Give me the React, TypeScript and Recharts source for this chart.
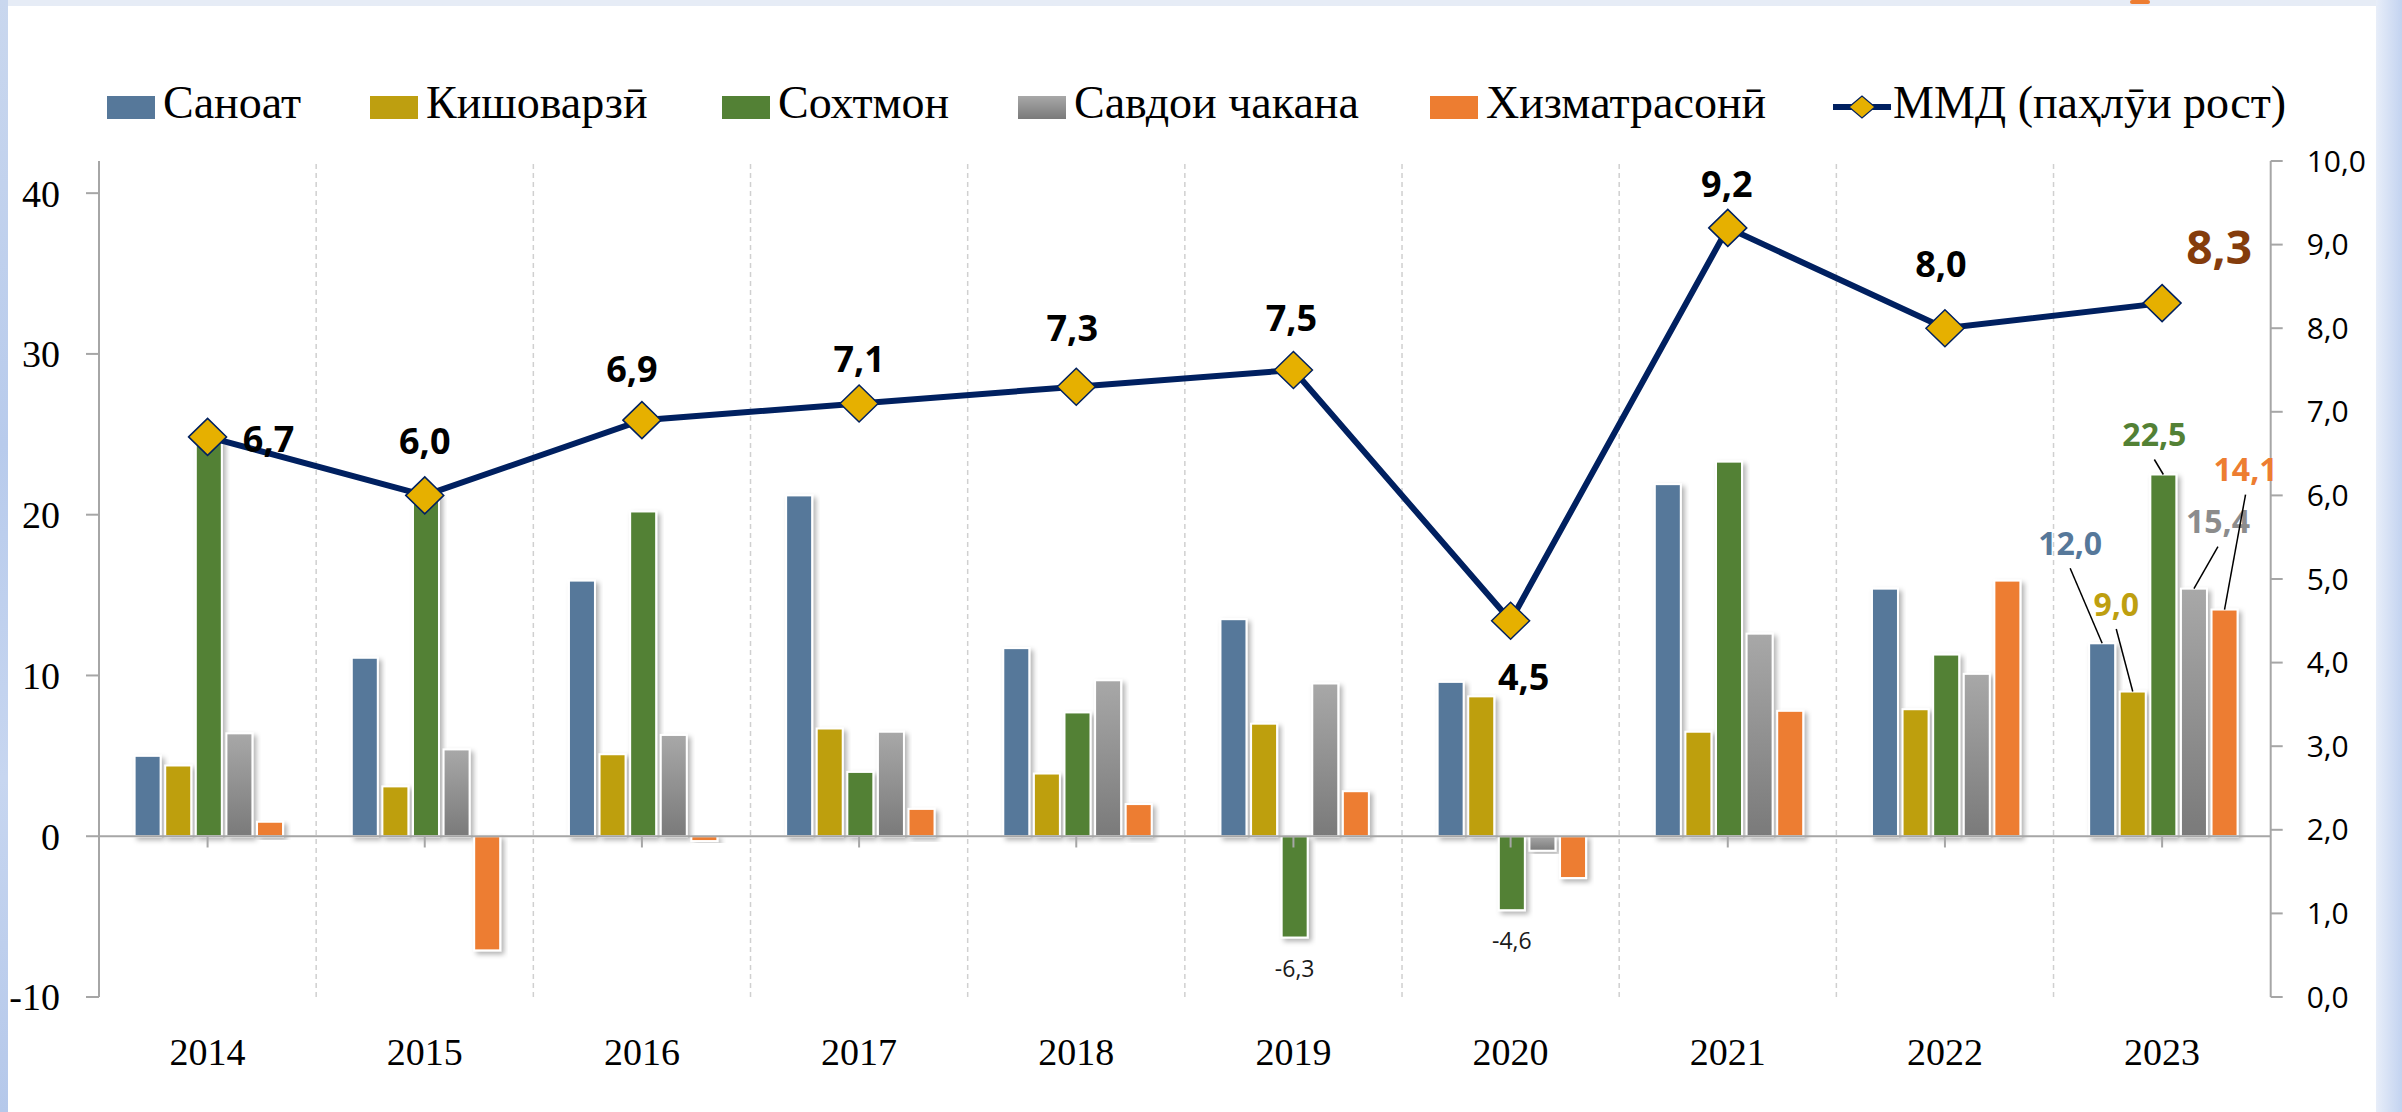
import React from 'react';
import {
  ComposedChart,
  Bar,
  Line,
  XAxis,
  YAxis,
  ReferenceLine,
  LabelList,
  Legend,
} from 'recharts';

// ---------- data ----------
const years = ['2014', '2015', '2016', '2017', '2018', '2019', '2020', '2021', '2022', '2023'];
const sanoat = [5.0, 11.1, 15.9, 21.2, 11.7, 13.5, 9.6, 21.9, 15.4, 12.0];
const kishovarzi = [4.4, 3.1, 5.1, 6.7, 3.9, 7.0, 8.7, 6.5, 7.9, 9.0];
const sokhtmon = [24.6, 21.3, 20.2, 4.0, 7.7, -6.3, -4.6, 23.3, 11.3, 22.5];
const savdo = [6.4, 5.4, 6.3, 6.5, 9.7, 9.5, -0.9, 12.6, 10.1, 15.4];
const khizmat = [0.9, -7.1, -0.3, 1.7, 2.0, 2.8, -2.6, 7.8, 15.9, 14.1];
const gdp = [6.7, 6.0, 6.9, 7.1, 7.3, 7.5, 4.5, 9.2, 8.0, 8.3];

const seriesNames = ['Саноат', 'Кишоварзӣ', 'Сохтмон', 'Савдои чакана', 'Хизматрасонӣ'];
const lineName = 'ММД (паҳлӯи рост)';
const leftTicks = [-10, 0, 10, 20, 30, 40];
const rightTicks = [0, 1, 2, 3, 4, 5, 6, 7, 8, 9, 10];

const data = years.map((year, i) => ({
  year,
  sanoat: sanoat[i],
  kishovarzi: kishovarzi[i],
  sokhtmon: sokhtmon[i],
  savdo: savdo[i],
  khizmat: khizmat[i],
  gdp: gdp[i],
}));

// ---------- styles ----------
const C_BLUE = '#56789A';
const C_GOLD = '#BE9F10';
const C_GREEN = '#538135';
const C_ORANGE = '#ED7D31';
const C_NAVY = '#002060';
const C_DIAMOND = '#E6B000';
const AXIS_GRAY = '#a6a6a6';

const serif = '"Liberation Serif", "DejaVu Serif", serif';
const sans = '"Open Sans", "Noto Sans", sans-serif';

const legendX = [107, 370, 722, 1018, 1430];
const legendKeyFill = [C_BLUE, C_GOLD, C_GREEN, 'linear-gradient(#a8a8a8, #7a7a7a)', C_ORANGE];

// label offsets for the GDP line (dx, dy from marker centre)
const lineLabelOffsets: [number, number][] = [
  [61, 2], [0, -55], [-10, -52], [0, -45], [-4, -59], [-2, -53], [13, 56], [-1, -44], [-4, -65], [57, -57],
];

const BarShape = (props: any) => {
  const { x, y, width, height, fill } = props;
  if (x == null || y == null || !height) return <g />;
  const h = Math.abs(height);
  const top = height < 0 ? y + height : y;
  return (
    <rect
      x={x}
      y={top}
      width={width}
      height={h}
      fill={fill}
      stroke="#ffffff"
      strokeWidth={2}
      filter="url(#barShadow)"
    />
  );
};

const Diamond = (props: any) => {
  const { cx, cy, index } = props;
  if (cx == null || cy == null) return <g key={`d${index}`} />;
  const w = 19;
  const h = 18.5;
  return (
    <path
      key={`d${index}`}
      d={`M${cx - w},${cy} L${cx},${cy - h} L${cx + w},${cy} L${cx},${cy + h} Z`}
      fill={C_DIAMOND}
      stroke={C_NAVY}
      strokeWidth={1.5}
    />
  );
};

const LineLabel = (props: any) => {
  const { x, y, value, index } = props;
  if (x == null || y == null) return null;
  const [dx, dy] = lineLabelOffsets[index] || [0, -50];
  const last = index === years.length - 1;
  return (
    <text
      x={x + dx}
      y={y + dy}
      textAnchor="middle"
      dominantBaseline="central"
      fontFamily={sans}
      fontWeight={700}
      fontSize={last ? 46 : 36}
      fill={last ? '#843C0C' : '#000000'}
    >
      {Number(value).toFixed(1).replace('.', ',')}
    </text>
  );
};

const makeLastLabel = (color: string, dx: number, dy: number) => (props: any) => {
  const { x, y, width, height, value, index } = props;
  if (index !== years.length - 1 || x == null) return null;
  const cx = x + width / 2;
  const top = Math.min(y, y + height);
  const lx = cx + dx;
  const ly = top + dy;
  return (
    <g>
      <line x1={lx} y1={ly + 26} x2={cx} y2={top} stroke="#000" strokeWidth={1.5} />
      <text
        x={lx}
        y={ly}
        textAnchor="middle"
        dominantBaseline="central"
        fontFamily={sans}
        fontWeight={700}
        fontSize={32}
        fill={color}
      >
        {Number(value).toFixed(1).replace('.', ',')}
      </text>
    </g>
  );
};

const NegLabel = (props: any) => {
  const { x, y, width, height, value } = props;
  if (x == null || value >= 0 || value > -3) return null;
  const cx = x + width / 2;
  const bottom = Math.max(y, y + height);
  return (
    <text
      x={cx}
      y={bottom + 30}
      textAnchor="middle"
      dominantBaseline="central"
      fontFamily={sans}
      fontSize={23}
      fill="#1a1a1a"
    >
      {Number(value).toFixed(1).replace('.', ',')}
    </text>
  );
};

const legendTextStyle: React.CSSProperties = {
  position: 'absolute',
  top: 80,
  fontFamily: serif,
  fontSize: 46,
  lineHeight: '46px',
  color: '#000',
  whiteSpace: 'nowrap',
};

const renderLegend = () => (
  <div style={{ position: 'relative', width: 2402, height: 0 }}>
    {seriesNames.map((n, i) => (
      <React.Fragment key={n}>
        <div
          style={{
            position: 'absolute',
            left: legendX[i],
            top: 96,
            width: 48,
            height: 23,
            background: legendKeyFill[i],
          }}
        />
        <div style={{ ...legendTextStyle, left: legendX[i] + 56 }}>{n}</div>
      </React.Fragment>
    ))}
    <svg style={{ position: 'absolute', left: 1833, top: 92 }} width={58} height={30}>
      <line x1={0} y1={15} x2={58} y2={15} stroke={C_NAVY} strokeWidth={6} />
      <path d="M16,15 L29,4 L42,15 L29,26 Z" fill={C_DIAMOND} stroke={C_NAVY} strokeWidth={1.2} />
    </svg>
    <div style={{ ...legendTextStyle, left: 1893 }}>{lineName}</div>
  </div>
);

export default function App() {
  return (
    <div
      style={{
        position: 'absolute',
        left: 0,
        top: 0,
        width: 2402,
        height: 1112,
        overflow: 'hidden',
        background: 'linear-gradient(to bottom, #e6ecf6, #dfe7f5)',
      }}
    >
      {/* slide background pieces */}
      <div style={{ position: 'absolute', left: 0, top: 0, width: 8, height: 1112, background: 'linear-gradient(to bottom, #c9d7ee, #b8cbec 40%, #c7d6f0 70%, #b5c8ea)' }} />
      <div style={{ position: 'absolute', left: 2376, top: 0, width: 26, height: 1112, background: 'linear-gradient(to right, #e8eef9, #c3d3f0)' }} />
      <div style={{ position: 'absolute', left: 2130, top: 0, width: 20, height: 4, background: '#ED7D31', borderRadius: 3 }} />
      <div style={{ position: 'absolute', left: 8, top: 6, width: 2368, height: 1106, background: '#ffffff' }} />

      <div style={{ position: 'absolute', left: 0, top: 0 }}>
        <ComposedChart
          width={2402}
          height={1112}
          data={data}
          margin={{ top: 161, right: 0, bottom: 0, left: 0 }}
          barGap={4.6}
          barCategoryGap="16.4%"
        >
          <defs>
            <linearGradient id="grayGrad" x1="0" y1="0" x2="0" y2="1">
              <stop offset="0%" stopColor="#a8a8a8" />
              <stop offset="100%" stopColor="#7a7a7a" />
            </linearGradient>
            <filter id="barShadow" x="-30%" y="-10%" width="160%" height="130%">
              <feDropShadow dx="3" dy="3" stdDeviation="2.5" floodColor="#000" floodOpacity="0.3" />
            </filter>
          </defs>

          <XAxis
            dataKey="year"
            xAxisId={0}
            height={115}
            axisLine={false}
            tickLine={false}
            tickSize={0}
            tickMargin={41}
            interval={0}
            tick={{ fontFamily: serif, fontSize: 38, fill: '#000' }}
          />
          <YAxis
            yAxisId="left"
            orientation="left"
            width={99}
            domain={[-10, 42]}
            ticks={leftTicks}
            allowDataOverflow
            axisLine={{ stroke: AXIS_GRAY, strokeWidth: 2 }}
            tickLine={{ stroke: AXIS_GRAY, strokeWidth: 2 }}
            tickSize={13}
            tickMargin={26}
            tick={{ fontFamily: serif, fontSize: 38, fill: '#000' }}
          />
          <YAxis
            yAxisId="right"
            orientation="right"
            width={131.3}
            domain={[0, 10]}
            ticks={rightTicks}
            allowDataOverflow
            axisLine={{ stroke: AXIS_GRAY, strokeWidth: 2 }}
            tickLine={{ stroke: AXIS_GRAY, strokeWidth: 2 }}
            tickSize={12}
            tickMargin={24}
            tickFormatter={(v: number) => v.toFixed(1).replace('.', ',')}
            tick={{ fontFamily: sans, fontSize: 30, fill: '#000' }}
          />

          {years.slice(1).map((yr) => (
            <ReferenceLine
              key={`g${yr}`}
              x={yr}
              xAxisId={0}
              yAxisId="left"
              position="start"
              stroke="#d0d0d0"
              strokeWidth={1.5}
              strokeDasharray="5 4"
            />
          ))}

          <Legend
            layout="vertical"
            align="center"
            verticalAlign="middle"
            content={renderLegend}
            wrapperStyle={{ left: 0, top: 0, width: 2402, height: 0 }}
          />

          <Bar yAxisId="left" dataKey="sanoat" name={seriesNames[0]} fill={C_BLUE} shape={BarShape} isAnimationActive={false}>
            <LabelList dataKey="sanoat" content={makeLastLabel(C_BLUE, -32, -101)} />
          </Bar>
          <Bar yAxisId="left" dataKey="kishovarzi" name={seriesNames[1]} fill={C_GOLD} shape={BarShape} isAnimationActive={false}>
            <LabelList dataKey="kishovarzi" content={makeLastLabel(C_GOLD, -16.5, -88.5)} />
          </Bar>
          <Bar yAxisId="left" dataKey="sokhtmon" name={seriesNames[2]} fill={C_GREEN} shape={BarShape} isAnimationActive={false}>
            <LabelList dataKey="sokhtmon" content={makeLastLabel(C_GREEN, -9, -41)} />
            <LabelList dataKey="sokhtmon" content={NegLabel} />
          </Bar>
          <Bar yAxisId="left" dataKey="savdo" name={seriesNames[3]} fill="url(#grayGrad)" shape={BarShape} isAnimationActive={false}>
            <LabelList dataKey="savdo" content={makeLastLabel('#8c8c8c', 24, -68)} />
          </Bar>
          <Bar yAxisId="left" dataKey="khizmat" name={seriesNames[4]} fill={C_ORANGE} shape={BarShape} isAnimationActive={false}>
            <LabelList dataKey="khizmat" content={makeLastLabel(C_ORANGE, 21, -141)} />
          </Bar>

          <ReferenceLine y={0} yAxisId="left" xAxisId={0} stroke={AXIS_GRAY} strokeWidth={2} />
          {years.map((yr) => (
            <ReferenceLine
              key={`t${yr}`}
              xAxisId={0}
              yAxisId="left"
              segment={[{ x: yr, y: 0 }, { x: yr, y: -0.7 }]}
              stroke={AXIS_GRAY}
              strokeWidth={2}
            />
          ))}

          <Line
            yAxisId="right"
            dataKey="gdp"
            name={lineName}
            stroke={C_NAVY}
            strokeWidth={6}
            dot={Diamond}
            activeDot={false}
            isAnimationActive={false}
          >
            <LabelList dataKey="gdp" content={LineLabel} />
          </Line>
        </ComposedChart>
      </div>
    </div>
  );
}
